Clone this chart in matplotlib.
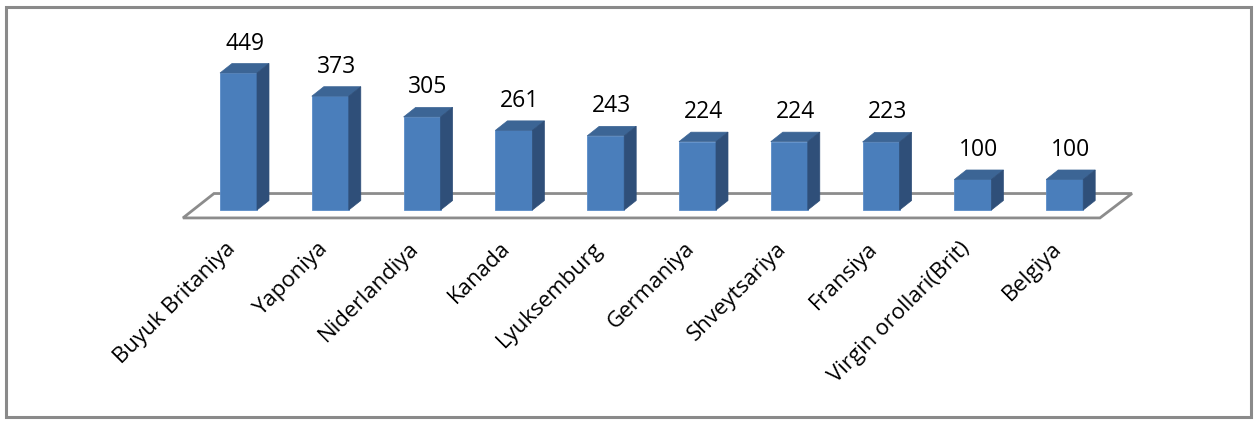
import numpy as np
import matplotlib.pyplot as plt
from matplotlib.patches import Polygon, Rectangle

countries = ['Buyuk Britaniya', 'Yaponiya', 'Niderlandiya', 'Kanada', 'Lyuksemburg',
             'Germaniya', 'Shveytsariya', 'Fransiya', 'Virgin orollari(Brit)', 'Belgiya']
values = [449, 373, 305, 261, 243, 224, 224, 223, 100, 100]

plt.rcParams['font.family'] = ['Open Sans', 'DejaVu Sans']

W, H = 1256, 421
fig = plt.figure(figsize=(W / 100, H / 100), dpi=100)

# axes placed in pixels: index i -> 238.5 + 91.8*i px, value 0 -> 210 px, 1 unit = 0.3051 px
px_x, py_s = 91.8, 0.3051
left_px, right_px, top_px, bot_px = 150, 1150, 30, 230
ax = fig.add_axes([left_px / W, 1 - bot_px / H, (right_px - left_px) / W, (bot_px - top_px) / H])
ax.set_xlim((left_px - 238.5) / px_x, (right_px - 238.5) / px_x)
ax.set_ylim((210 - bot_px) / py_s, (210 - top_px) / py_s)
ax.axis('off')

bw = 0.403
dx = 12 / px_x
dy = 9.5 / py_s
front_c = '#4A7EBB'
top_c = '#3C6595'
side_c = '#2F4F79'

# floor
floor = Polygon([(-0.605, -26), (-0.267, 54), (9.733, 54), (9.384, -26)], closed=True,
                facecolor='white', edgecolor='#8C8C8C', lw=2, zorder=1)
ax.add_patch(floor)

x = np.arange(len(values))
ax.bar(x, values, width=bw, color=front_c, edgecolor='#5B8CC8', lw=0.6, zorder=3)
for xi, v in zip(x, values):
    l, r = xi - bw / 2, xi + bw / 2
    ax.add_patch(Polygon([(l, v), (l + dx, v + dy), (r + dx, v + dy), (r, v)],
                         facecolor=top_c, edgecolor=top_c, lw=0.5, zorder=3))
    ax.add_patch(Polygon([(r, 0), (r, v), (r + dx, v + dy), (r + dx, dy)],
                         facecolor=side_c, edgecolor=side_c, lw=0.5, zorder=3))
    ax.annotate(str(v), (xi + dx / 2, v + dy), xytext=(0, 8), textcoords='offset pixels',
                ha='center', va='bottom', fontsize=16.5, color='black')
    ax.annotate(countries[xi], (xi - 0.15, 0), xytext=(0, -28), textcoords='offset pixels',
                ha='right', va='top', rotation=45, rotation_mode='anchor',
                fontsize=16, color='black', annotation_clip=False)

fig.patches.append(Rectangle((5.5 / W, 4.5 / H), (W - 11) / W, (H - 11) / H,
                             transform=fig.transFigure, fill=False,
                             edgecolor='#8A8A8A', lw=2.2))

fig.savefig('out.png', dpi=100)
